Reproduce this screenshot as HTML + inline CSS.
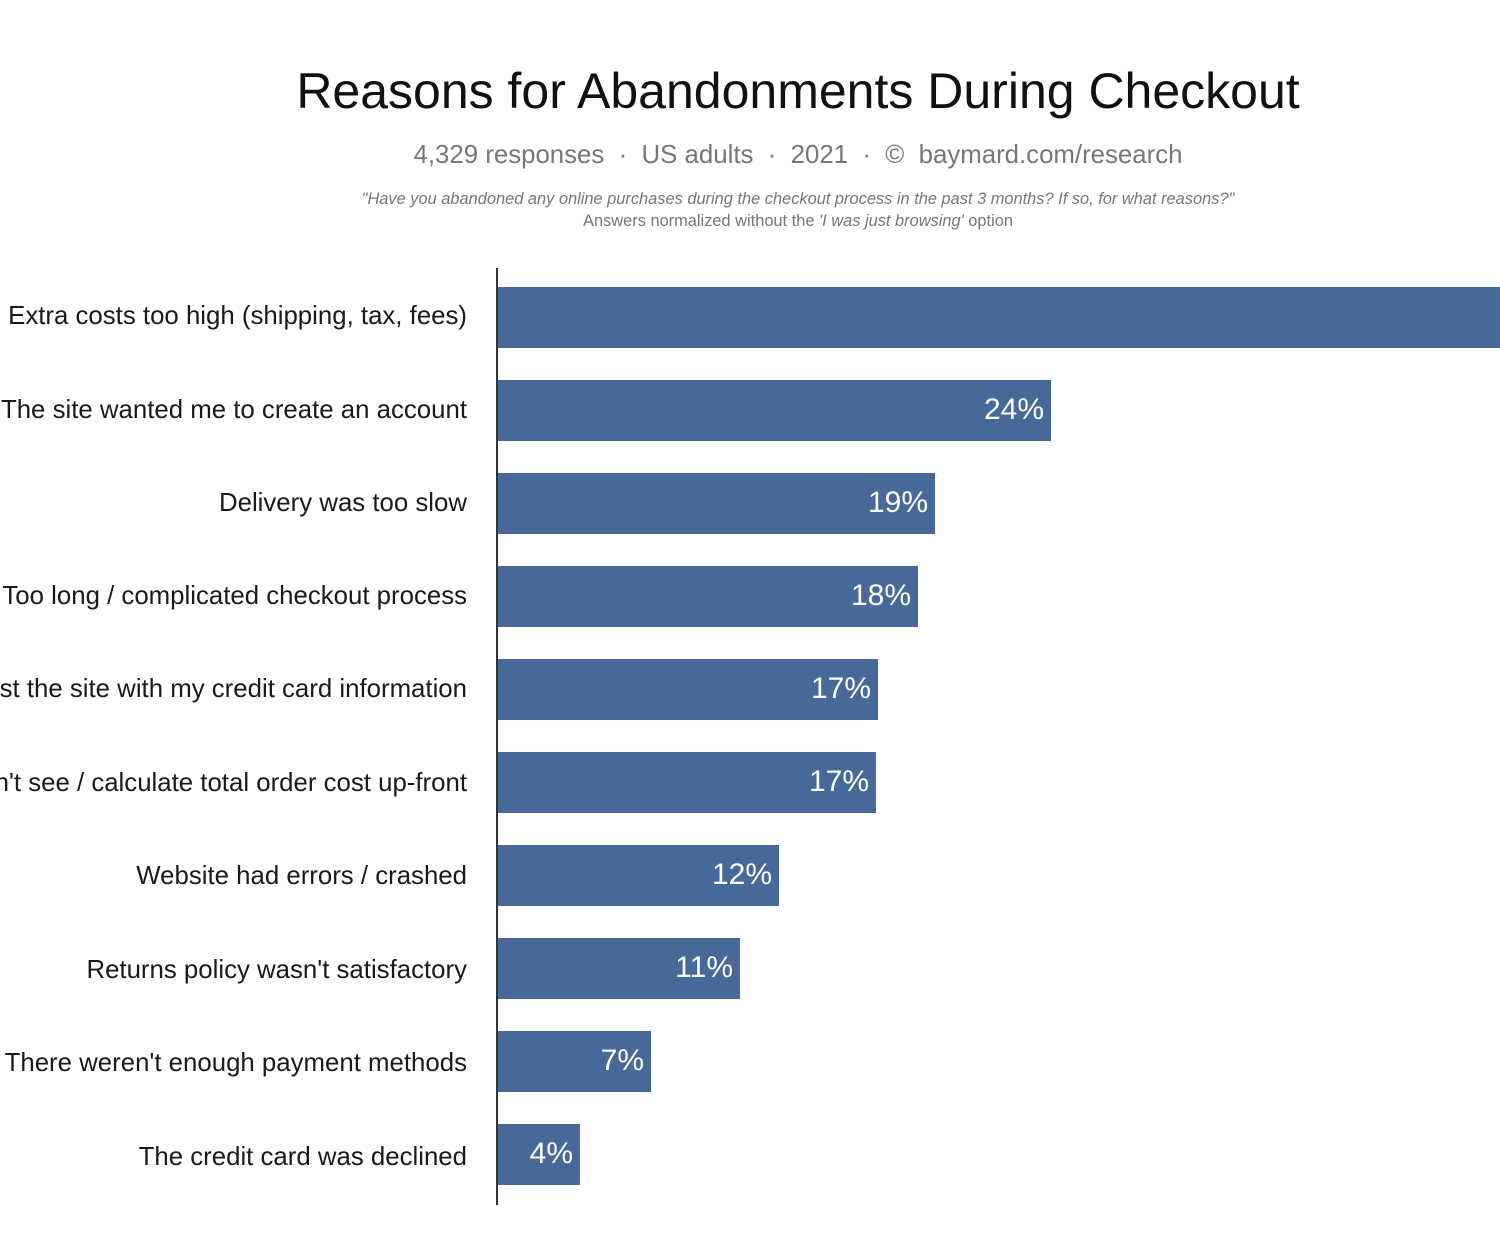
<!DOCTYPE html>
<html><head><meta charset="utf-8"><style>
html,body{margin:0;padding:0;background:#fff;width:1500px;height:1250px;overflow:hidden;position:relative;font-family:"Liberation Sans",sans-serif}
.t{position:absolute;left:0;width:1596px;text-align:center;white-space:nowrap}
.lab{position:absolute;right:1033px;font-size:25.8px;color:#1a1a1a;white-space:nowrap;line-height:30px}
.bar{position:absolute;left:498px;height:61px;background:#46699a}
.v{position:absolute;right:7px;top:14px;color:#fff;font-size:30px;line-height:32px}
</style></head><body>
<div class="t" style="top:62px;font-size:50px;color:#111;">Reasons for Abandonments During Checkout</div>
<div class="t" style="top:141px;font-size:25.8px;color:#777;">4,329 responses &nbsp;·&nbsp; US adults &nbsp;·&nbsp; 2021 &nbsp;·&nbsp; © &nbsp;baymard.com/research</div>
<div class="t" style="top:190px;font-size:16.4px;color:#777;font-style:italic;">"Have you abandoned any online purchases during the checkout process in the past 3 months? If so, for what reasons?"</div>
<div class="t" style="top:212px;font-size:16.4px;color:#777;">Answers normalized without the <i>'I was just browsing'</i> option</div>
<div style="position:absolute;left:496px;top:268px;width:2px;height:937px;background:#333"></div>

<div class="lab" style="top:301px">Extra costs too high (shipping, tax, fees)</div>
<div class="bar" style="top:287px;width:1010px"></div>
<div class="lab" style="top:395px">The site wanted me to create an account</div>
<div class="bar" style="top:380px;width:553px"><span class="v">24%</span></div>
<div class="lab" style="top:488px">Delivery was too slow</div>
<div class="bar" style="top:473px;width:437px"><span class="v">19%</span></div>
<div class="lab" style="top:581px">Too long / complicated checkout process</div>
<div class="bar" style="top:566px;width:420px"><span class="v">18%</span></div>
<div class="lab" style="top:674px">I didn't trust the site with my credit card information</div>
<div class="bar" style="top:659px;width:380px"><span class="v">17%</span></div>
<div class="lab" style="top:768px">I couldn't see / calculate total order cost up-front</div>
<div class="bar" style="top:752px;width:378px"><span class="v">17%</span></div>
<div class="lab" style="top:861px">Website had errors / crashed</div>
<div class="bar" style="top:845px;width:281px"><span class="v">12%</span></div>
<div class="lab" style="top:955px">Returns policy wasn't satisfactory</div>
<div class="bar" style="top:938px;width:242px"><span class="v">11%</span></div>
<div class="lab" style="top:1048px">There weren't enough payment methods</div>
<div class="bar" style="top:1031px;width:153px"><span class="v">7%</span></div>
<div class="lab" style="top:1142px">The credit card was declined</div>
<div class="bar" style="top:1124px;width:82px"><span class="v">4%</span></div>
</body></html>
